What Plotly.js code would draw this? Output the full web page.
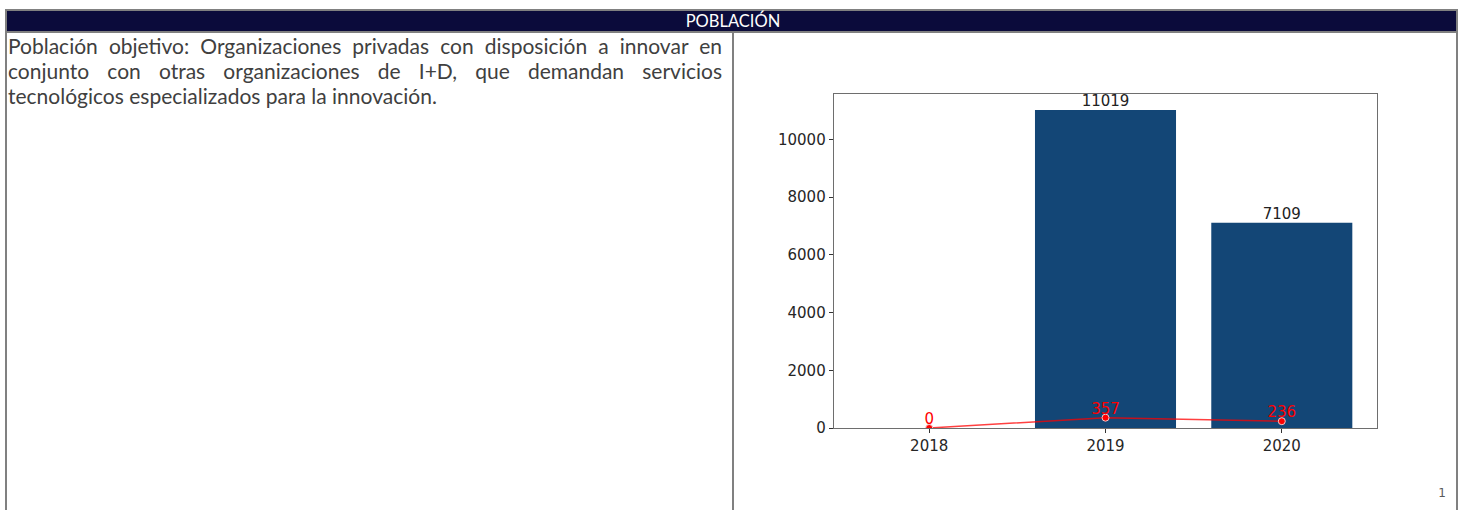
<!DOCTYPE html>
<html>
<head>
<meta charset="utf-8">
<script src="https://cdn.plot.ly/plotly-3.0.1.min.js"></script>
<style>
html,body{margin:0;padding:0;width:1465px;height:510px;overflow:hidden;background:#fff;}
.abs{position:absolute;}
.gray{background:#808080;}
#hdr{left:7px;top:11px;width:1449px;height:20px;background:#0b0b3b;}
#hdrtxt{left:7px;top:11px;width:1452px;height:20px;line-height:20px;text-align:center;color:#fff;font-family:Lato,"Open Sans",sans-serif;font-size:16.5px;}
#para{left:8px;top:33px;width:714px;color:#404040;font-family:Lato,"Open Sans",sans-serif;font-size:19px;line-height:25px;}
#para .ln{white-space:nowrap;text-align:justify;text-align-last:justify;}
#para .last{white-space:nowrap;text-align:left;}
#pnum{left:1435px;top:486px;width:14px;text-align:center;font-family:"DejaVu Sans",sans-serif;font-size:12px;color:#595959;}
#chart{left:0;top:0;width:1465px;height:510px;}
</style>
</head>
<body>
<div class="abs gray" style="left:5px;top:9px;width:1453px;height:2px;"></div>
<div class="abs gray" style="left:5px;top:9px;width:2px;height:510px;"></div>
<div class="abs gray" style="left:1456px;top:9px;width:2px;height:510px;"></div>
<div class="abs" id="hdr"></div>
<div class="abs gray" style="left:5px;top:31px;width:1453px;height:2px;"></div>
<div class="abs gray" style="left:732px;top:31px;width:2px;height:490px;"></div>
<div class="abs" id="hdrtxt">POBLACIÓN</div>
<div class="abs" id="para">
  <div class="ln" id="l1">Población objetivo: Organizaciones privadas con disposición a innovar en</div>
  <div class="ln" id="l2">conjunto con otras organizaciones de I+D, que demandan servicios</div>
  <div class="last" id="l3">tecnológicos especializados para la innovación.</div>
</div>
<div class="abs" id="pnum">1</div>
<div class="abs" id="chart"></div>
<script>
// ---- data ----
const years = ["2018", "2019", "2020"];
const poblacionPotencial = [0, 11019, 7109];
const poblacionAtendida = [0, 357, 236];
const yTickVals = [0, 2000, 4000, 6000, 8000, 10000];
const yTickText = ["0", "2000", "4000", "6000", "8000", "10000"];

// fit paragraph font so first line spans the cell width
(function(){
  const c = document.createElement('canvas').getContext('2d');
  const txt = document.getElementById('l1').textContent;
  c.font = '20px Lato';
  const w = c.measureText(txt).width;
  const fs = Math.min(21, 20 * 712 / w);
  document.getElementById('para').style.fontSize = fs.toFixed(2) + 'px';
})();

const barTrace = {
  type: 'bar', x: years, y: poblacionPotencial, width: 0.8,
  marker: {color: '#134676'},
  hoverinfo: 'skip'
};
const lineTrace = {
  type: 'scatter', mode: 'lines+markers', x: years, y: poblacionAtendida,
  line: {color: 'rgba(255,0,0,0.75)', width: 1.5},
  marker: {color: '#ff0000', size: 7, line: {color: '#f0c8c8', width: 1}},
  hoverinfo: 'skip'
};
const barLabels = {
  type: 'scatter', mode: 'text', x: years, y: poblacionPotencial,
  text: poblacionPotencial.map(v => v > 0 ? String(v) : ''),
  textposition: 'top center', cliponaxis: false, marker: {size: 1},
  textfont: {family: 'DejaVu Sans', size: 15, color: '#222222'},
  hoverinfo: 'skip'
};
const lineLabels = {
  type: 'scatter', mode: 'text', x: years, y: poblacionAtendida,
  text: poblacionAtendida.map(v => String(v)),
  textposition: 'top center', cliponaxis: false, marker: {size: 1},
  textfont: {family: 'DejaVu Sans', size: 15, color: '#ff0000'},
  hoverinfo: 'skip'
};

const layout = {
  width: 1465, height: 510,
  margin: {l: 834, r: 88, t: 94, b: 82, pad: 0},
  paper_bgcolor: 'rgba(0,0,0,0)', plot_bgcolor: '#ffffff',
  showlegend: false,
  xaxis: {type: 'category', range: [-0.54, 2.54], showgrid: false, zeroline: false,
    showline: true, mirror: true, linecolor: '#6e6e6e', linewidth: 1.3,
    ticks: 'outside', ticklen: 4, tickwidth: 1, tickcolor: '#333',
    tickfont: {family: 'DejaVu Sans', size: 15, color: '#262626'}},
  yaxis: {range: [0, 11570], showgrid: false, zeroline: false,
    showline: true, mirror: true, linecolor: '#6e6e6e', linewidth: 1.3,
    ticks: 'outside', ticklen: 4, tickwidth: 1, tickcolor: '#333',
    tickvals: yTickVals, ticktext: yTickText,
    tickfont: {family: 'DejaVu Sans', size: 15, color: '#262626'}}
};
Plotly.newPlot('chart', [barTrace, lineTrace, barLabels, lineLabels], layout, {staticPlot: true, displayModeBar: false});
</script>
</body>
</html>
